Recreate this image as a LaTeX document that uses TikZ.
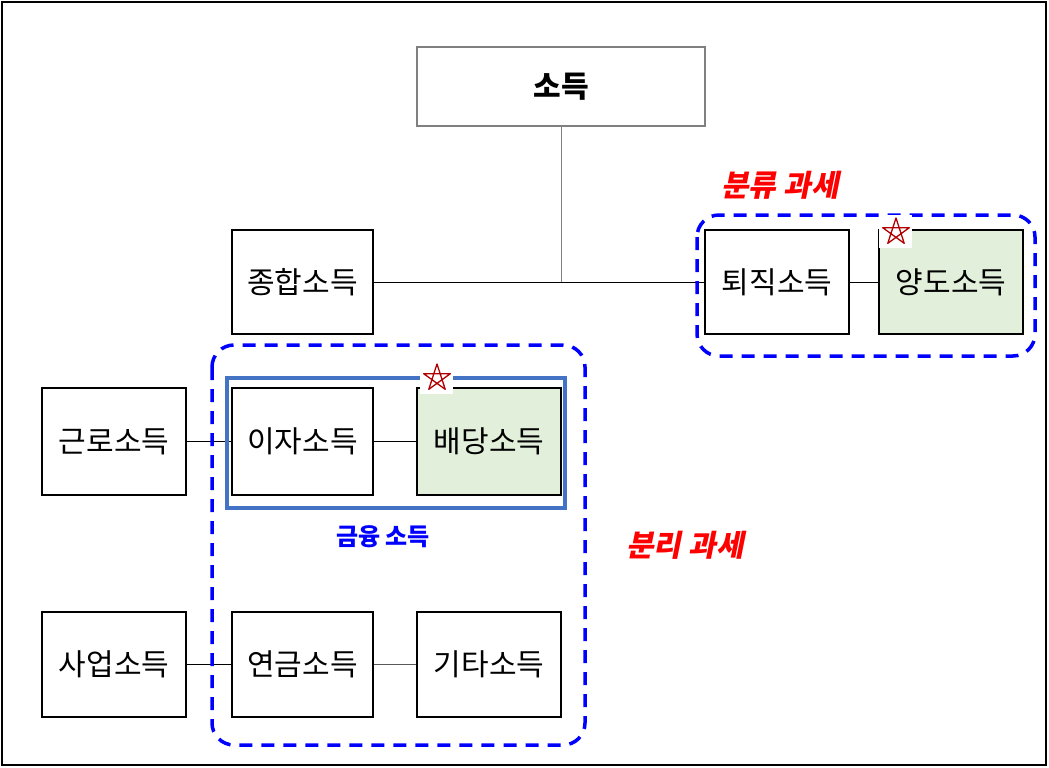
\documentclass[tikz,border=0pt]{standalone}
\usepackage{fontspec}
\newfontfamily\cjk{Noto Sans CJK KR}
\newfontfamily\cjkit{Noto Sans CJK KR}[FakeSlant=0.2]
\begin{document}
\begin{tikzpicture}[x=1pt,y=-1pt,
  box/.style={draw,line width=1.2pt,inner sep=0pt,font=\cjk\fontsize{30}{30}\selectfont},
  gbox/.style={box,fill=green!10!white,fill={rgb,255:red,226;green,239;blue,218}},
  conn/.style={line width=1pt},
  grp/.style={draw={rgb,255:red,0;green,0;blue,255},dashed,line width=3.5pt,dash pattern=on 13pt off 9pt,rounded corners=22pt},
  lab/.style={font=\cjkit\bfseries\fontsize{30}{30}\selectfont,text=red}]
\useasboundingbox (0,0) rectangle (1049,768);
\draw[line width=2pt] (2,2) rectangle (1046,765);
\def\bx#1#2#3#4#5#6#7{\node[#1,minimum width=#4-#2,minimum height=#5-#3] (#6) at ({(#2+#4)/2},{(#3+#5)/2}) {#7};}
\bx{box,font=\cjk\bfseries\fontsize{30}{30}\selectfont,draw=gray}{417}{47}{705}{126}{so}{소득}
\bx{box}{232}{230}{373}{334}{jh}{종합소득}
\bx{box}{705}{230}{849}{334}{tj}{퇴직소득}
\bx{gbox}{879}{230}{1023}{334}{yd}{양도소득}
\bx{box}{42}{388}{186}{495}{gr}{근로소득}
\bx{box}{232}{388}{373}{495}{ij}{이자소득}
\bx{gbox}{417}{388}{561}{495}{bd}{배당소득}
\bx{box}{42}{612}{186}{717}{sa}{사업소득}
\bx{box}{232}{612}{373}{717}{yg}{연금소득}
\bx{box}{417}{612}{561}{717}{gt}{기타소득}
\coordinate (j) at (561,283);
\draw[gray,line width=1pt] (so.south) -- (j);
\draw[conn] (jh) -- (tj);
\draw[conn] (tj) -- (yd);
\draw[conn] (gr) -- (ij);
\draw[conn] (ij) -- (bd);
\draw[conn] (sa) -- (yg);
\draw[conn,gray!70!black] (yg) -- (gt);
\draw[grp] (697,215) rectangle (1035,356);
\draw[grp] (212,345) rectangle (585,745);
\draw[line width=4pt,draw={rgb,255:red,68;green,114;blue,196}] (227,378) rectangle (565,508);
\node[lab] (l1) at (780,185) {분류 과세};
\node[lab] (l2) at (685,545) {분리 과세};
\node[font=\cjk\bfseries\fontsize{24}{24}\selectfont,text={rgb,255:red,0;green,0;blue,255}] (l3) at (383,537) {금융 소득};
\foreach \cx/\cy in {896/232,437/378}{
  \fill[white] (\cx-17,\cy-17) rectangle (\cx+16,\cy+16);
  \draw[red!70!black,line width=1.3pt,line join=round] (\cx,\cy)+(-90:14) -- +(54:14) -- +(198:14) -- +(-18:14) -- +(126:14) -- cycle;
}
\end{tikzpicture}
\end{document}
